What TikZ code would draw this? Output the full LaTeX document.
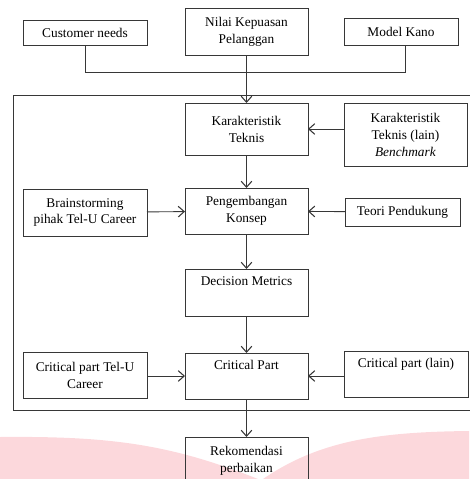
\documentclass[tikz,border=0pt]{standalone}
\usepackage{fontspec}
\setmainfont{Liberation Serif}
\usetikzlibrary{arrows.meta}
\definecolor{garis}{RGB}{55,55,55}
\definecolor{merahmuda}{RGB}{252,216,220}
\tikzset{
	blok/.style={draw=garis,line width=0.65pt,inner sep=0,outer sep=0,align=center,font=\fontsize{10}{12.75}\selectfont},
	panah/.style={draw=garis,line width=0.65pt,-{Straight Barb[length=4.5pt,width=8pt,line width=0.8pt]}},
	garisan/.style={draw=garis,line width=0.65pt}
}

\begin{document}
\begin{tikzpicture}[x=0.75pt,y=-0.75pt]
	\useasboundingbox (0,0) rectangle (469,479);
	\fill[merahmuda] (0,437) .. controls (110,436) and (170,444) .. (258,479) -- (0,479) -- cycle;
	\fill[merahmuda] (469,431) .. controls (380,432) and (320,440) .. (263,479) -- (469,479) -- cycle;
	\draw[garisan] (13,95) rectangle (480,410);
	\node[blok,minimum width=93pt,minimum height=18.75pt] (cn) at (85,32.5) {Customer needs};
	\node[blok,minimum width=92.25pt,minimum height=35.25pt] (nk) at (246.5,31.5) {Nilai Kepuasan\\Pelanggan};
	\node[blok,minimum width=85.5pt,minimum height=20.25pt] (mk) at (401,31.5) {Model Kano};
	\node[blok,minimum width=92.25pt,minimum height=39pt] (kt) at (246.5,129) {Karakteristik\\Teknis};
	\node[blok,minimum width=92.25pt,minimum height=47.25pt] (kl) at (405.5,134.5) {Karakteristik\\Teknis (lain)\\\textit{Benchmark}};
	\node[blok,minimum width=93pt,minimum height=35.25pt] (bs) at (85,212.5) {Brainstorming\\pihak Tel-U Career};
	\node[blok,minimum width=92.25pt,minimum height=34.5pt] (pk) at (246.5,211) {Pengembangan\\Konsep};
	\node[blok,minimum width=86.25pt,minimum height=21pt] (tp) at (402.5,212) {Teori Pendukung};
	\node[blok,minimum width=92.25pt,minimum height=35.25pt] (dm) at (246.5,292.5) {Decision Metrics\\\strut};
	\node[blok,minimum width=93pt,minimum height=34.5pt] (ct) at (85,375) {Critical part Tel-U\\Career};
	\node[blok,minimum width=92.25pt,minimum height=34.5pt] (cp) at (246.5,376) {Critical Part\\\strut};
	\node[blok,minimum width=93pt,minimum height=34.5pt] (cl) at (406,374) {Critical part (lain)\\\strut};
	\node[blok,minimum width=92.25pt,minimum height=36pt] (rk) at (246.5,461) {Rekomendasi\\perbaikan};
	\coordinate (jn) at (0,72);
	\coordinate (mk1) at ([xshift=3pt]mk.south);
	\draw[garisan] (cn.south) |- (jn -| mk1) -- (mk1);
	\draw[panah] (nk) -- (kt);
	\draw[panah] (kl.west |- kt.east) -- (kt.east);
	\draw[panah] (kt) -- (pk);
	\draw[panah] (bs) -- (pk);
	\draw[panah] (tp) -- (pk);
	\draw[panah] (pk) -- (dm);
	\draw[panah] (dm) -- (cp);
	\draw[panah] (ct.east |- cp.west) -- (cp.west);
	\draw[panah] (cl.west |- cp.east) -- (cp.east);
	\draw[panah] (cp) -- (rk);
\end{tikzpicture}
\end{document}
